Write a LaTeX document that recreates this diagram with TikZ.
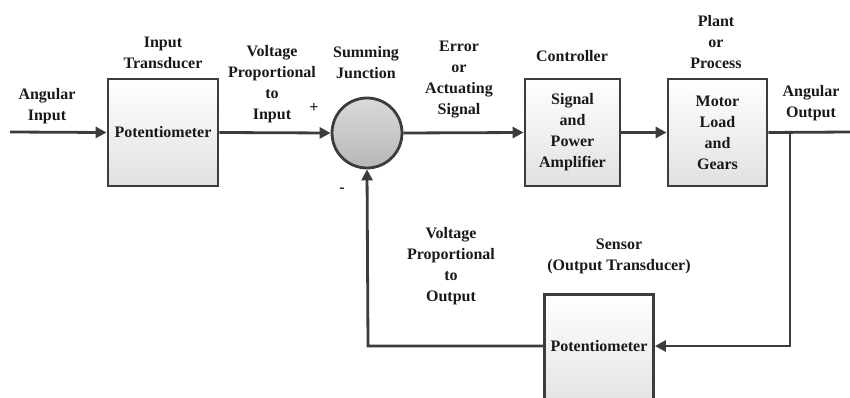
\documentclass[tikz,border=0pt]{standalone}
\usepackage{fontspec}
\setmainfont{Liberation Serif}[BoldFont={Liberation Serif Bold}]
\usetikzlibrary{arrows.meta,shadings}
\definecolor{ln}{HTML}{3c3c3c}
\begin{document}
\begin{tikzpicture}[x=1pt,y=-1pt,
  lbl/.style={font=\bfseries\fontsize{16}{21}\selectfont,align=center,inner sep=0pt,text=black!90},
  blk/.style={draw=ln,line width=2.8pt,top color=white,bottom color=black!12,inner sep=0pt,font=\bfseries\fontsize{16}{21}\selectfont,align=center,text=black!90},
  con/.style={draw=ln,line width=2.8pt},
  arr/.style={con,-{Triangle[length=11pt,width=11pt]}}]
\useasboundingbox (0,0) rectangle (850,398);
% blocks
\node[blk,minimum width=110pt,minimum height=107pt] (pot1) at (163,132.5) {Potentiometer};
\node[draw=ln,line width=2.8pt,circle,minimum size=70pt,inner sep=0pt,top color=black!15,bottom color=black!28] (sum) at (367,133) {};
\node[blk,minimum width=95pt,minimum height=107pt] (ctrl) at (572.5,132.5) {Signal\\and\\Power\\Amplifier};
\node[blk,minimum width=99pt,minimum height=107pt] (plant) at (717.5,132.5) {Motor\\Load\\and\\Gears};
\node[blk,minimum width=109pt,minimum height=120pt,anchor=north] (pot2) at (599,293) {};
\node[lbl] (pot2t) at (599,346) {Potentiometer};
% coordinates
\coordinate (in) at (10,132);
\coordinate (out) at (850,132);
\coordinate (br) at (790,132);
\coordinate (brd) at (790,346);
\coordinate (fbl) at (368,346);
% connectors
\draw[arr] (in) -- (pot1.west);
\draw[arr] (pot1.east) -- (sum.west);
\draw[arr] (sum.east) -- (ctrl.west);
\draw[arr] (ctrl.east) -- (plant.west);
\draw[con] (plant.east) -- (out);
\draw[con,line cap=rect] (br) -- (brd);
\draw[arr] (brd) -- (pot2.east |- brd);
\draw[arr] (pot2.west |- fbl) -- (fbl) -- (sum.south);
% labels
\node[lbl] (l1) at (47,106) {Angular\\Input};
\node[lbl] (l2) at (163,53) {Input\\Transducer};
\node[lbl] (l3) at (272,84) {Voltage\\Proportional\\to\\Input};
\node[lbl] (lp) at (314,108) {+};
\node[lbl] (l4) at (366,63) {Summing\\Junction};
\node[lbl] (lm) at (342,190) {-};
\node[lbl] (l5) at (459,80) {Error\\or\\Actuating\\Signal};
\node[lbl] (l6) at (572,56) {Controller};
\node[lbl] (l7) at (716,42) {Plant\\or\\Process};
\node[lbl] (l8) at (811,103) {Angular\\Output};
\node[lbl] (l9) at (451,266) {Voltage\\Proportional\\to\\Output};
\node[lbl] (l10) at (619,256) {Sensor\\(Output Transducer)};
\end{tikzpicture}
\end{document}
